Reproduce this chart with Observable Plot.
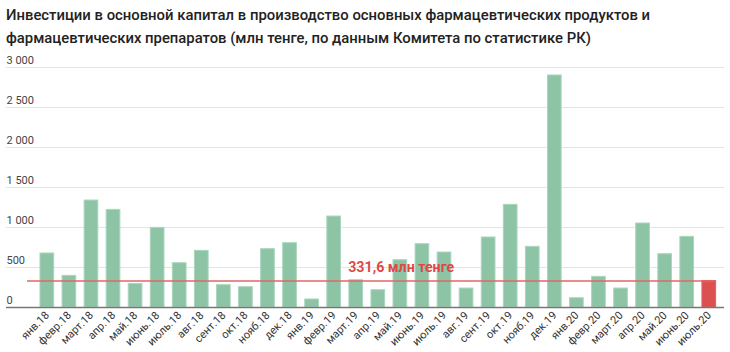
<!DOCTYPE html>
<html>
<head>
<meta charset="utf-8">
<script src="https://cdn.jsdelivr.net/npm/d3@7"></script>
<script src="https://cdn.jsdelivr.net/npm/@observablehq/plot@0.6"></script>
<style>
  body { margin: 0; background: #fff; font-family: Roboto, "Noto Sans", sans-serif; }
  #title { padding: 4px 0 0 6px; font-size: 14.85px; line-height: 23px; font-weight: 500; color: #222; height: 46px; }
  svg { display: block; }
</style>
</head>
<body>
<div id="title">Инвестиции в основной капитал в производство основных фармацевтических продуктов и<br>фармацевтических препаратов (млн тенге, по данным Комитета по статистике РК)</div>
<div id="chart"></div>
<script>
const months = ["янв.18","февр.18","март.18","апр.18","май.18","июнь.18","июль.18","авг.18","сент.18","окт.18","нояб.18","дек.18",
  "янв.19","февр.19","март.19","апр.19","май.19","июнь.19","июль.19","авг.19","сент.19","окт.19","нояб.19","дек.19",
  "янв.20","февр.20","март.20","апр.20","май.20","июнь.20","июль.20"];
const values = [675,395,1337,1220,295,995,554,708,279,254,729,804,
  100,1137,341,216,591,791,687,237,875,1283,758,2900,
  116,383,237,1050,666,883,331.6];
const highlightMonth = "июль.20";
const referenceValue = 331.6;
const referenceLabel = "331,6 млн тенге";
const labelMonth = "март.19";
const yTicks = [0,500,1000,1500,2000,2500,3000];

const data = months.map((m, i) => ({month: m, value: values[i]}));
const fmt = d3.formatLocale({thousands: " ", grouping: [3], decimal: ",", currency: ["", ""]}).format(",");

const chart = Plot.plot({
  width: 730,
  height: 302,
  marginTop: 17,
  marginBottom: 45,
  marginLeft: 6,
  marginRight: 6,
  style: {fontFamily: "Roboto, sans-serif", fontSize: "11px", color: "#333"},
  x: {type: "band", domain: months, padding: 0.38, insetLeft: 25.6, insetRight: 0, round: false},
  y: {domain: [0, 3000]},
  marks: [
    Plot.gridY(yTicks, {stroke: "#e4e4e4", strokeOpacity: 1, strokeWidth: 1}),
    Plot.axisY(yTicks, {anchor: "left", tickSize: 0, tickPadding: 0, textAnchor: "start", dy: -7, tickFormat: fmt, label: null, fill: "#444", fontSize: 11}),
    Plot.barY(data, {x: "month", y: "value",
      fill: d => d.month === highlightMonth ? "#dc5050" : "#8dc4a6",
      stroke: d => d.month === highlightMonth ? "#e06060" : "#a9d6bc",
      strokeWidth: 1}),
    Plot.ruleY([0], {stroke: "#777", strokeWidth: 1.5}),
    Plot.ruleY([referenceValue], {stroke: "#e06666", strokeOpacity: 0.75, strokeWidth: 2, insetLeft: 21, insetRight: 8}),
    Plot.text([referenceLabel], {x: [labelMonth], y: [referenceValue], text: d => d, textAnchor: "start", dx: -8, dy: -14, fill: "#e04848", fontSize: 14.2, fontWeight: "bold"}),
    Plot.axisX({anchor: "bottom", tickRotate: -45, tickSize: 0, tickPadding: 6, label: null, fill: "#333", fontSize: 11})
  ]
});
document.getElementById("chart").append(chart);
</script>
</body>
</html>
